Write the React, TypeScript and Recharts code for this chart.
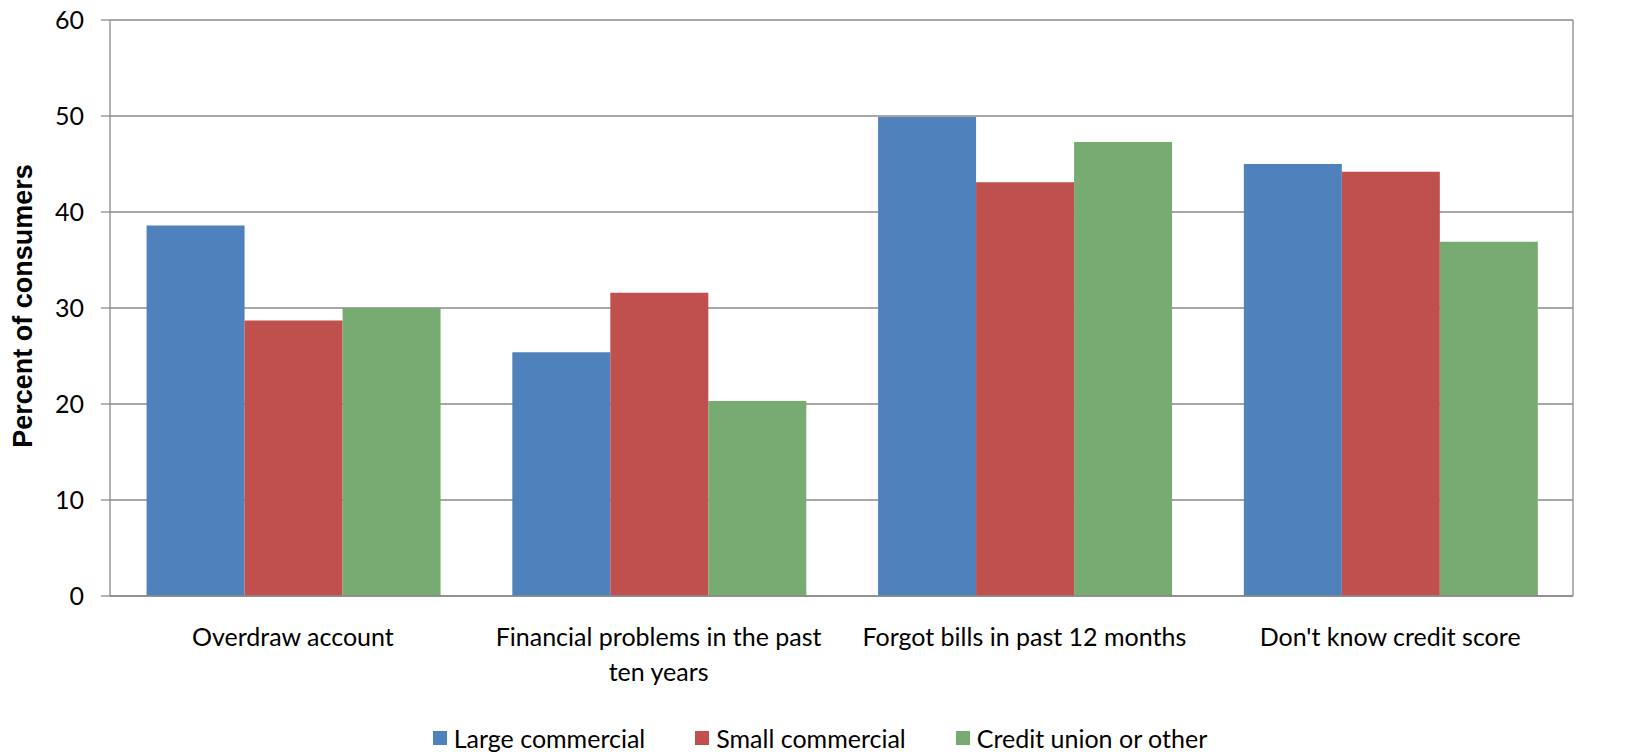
import React from "react";
import {
  Bar,
  BarChart,
  CartesianGrid,
  Legend,
  XAxis,
  YAxis,
} from "recharts";

// values
const CATEGORIES = [
  "Overdraw account",
  "Financial problems in the past ten years",
  "Forgot bills in past 12 months",
  "Don't know credit score",
];
const LARGE_COMMERCIAL = [38.6, 25.4, 49.9, 45.0];
const SMALL_COMMERCIAL = [28.7, 31.6, 43.1, 44.2];
const CREDIT_UNION = [30.0, 20.3, 47.3, 36.9];
const Y_TICKS = [0, 10, 20, 30, 40, 50, 60];

const SERIES = [
  { key: "large", name: "Large commercial", color: "#4F81BD", values: LARGE_COMMERCIAL },
  { key: "small", name: "Small commercial", color: "#C0504D", values: SMALL_COMMERCIAL },
  { key: "credit", name: "Credit union or other", color: "#77AB72", values: CREDIT_UNION },
];

const FONT = "Lato, 'Noto Sans', sans-serif";
const FONT_SIZE = 25;
const GRID = "#8a8a8a";
const LABEL_WIDTH = 345;

const data = CATEGORIES.map((label, i) => {
  const row: Record<string, string | number> = { label };
  SERIES.forEach((s) => {
    row[s.key] = s.values[i];
  });
  return row;
});

let ctx: CanvasRenderingContext2D | null = null;
function measure(str: string) {
  if (!ctx) ctx = document.createElement("canvas").getContext("2d");
  if (!ctx) return str.length * FONT_SIZE * 0.5;
  ctx.font = `${FONT_SIZE}px ${FONT}`;
  return ctx.measureText(str).width;
}

// greedy word wrap, like Excel does for long category names
function wrap(label: string, maxWidth: number) {
  const lines: string[] = [];
  let cur = "";
  label.split(" ").forEach((w) => {
    const next = cur ? `${cur} ${w}` : w;
    if (cur && measure(next) > maxWidth) {
      lines.push(cur);
      cur = w;
    } else {
      cur = next;
    }
  });
  if (cur) lines.push(cur);
  return lines;
}

function CategoryTick(props: any) {
  const { x, y, payload } = props;
  const lines = wrap(String(payload.value), LABEL_WIDTH);
  return (
    <text
      x={x}
      y={y + 42}
      textAnchor="middle"
      fill="#000"
      style={{ fontFamily: FONT, fontSize: FONT_SIZE }}
    >
      {lines.map((line, i) => (
        <tspan key={i} x={x} dy={i === 0 ? 0 : 35}>
          {line}
        </tspan>
      ))}
    </text>
  );
}

function AxisTitle(props: any) {
  const vb = props.viewBox || { x: 0, y: 20, width: 110, height: 576 };
  const cx = 23;
  const cy = vb.y + vb.height / 2 - 2;
  return (
    <text
      x={cx}
      y={cy}
      transform={`rotate(-90, ${cx}, ${cy})`}
      textAnchor="middle"
      dominantBaseline="central"
      style={{ fontFamily: "'Liberation Sans', Arial, sans-serif", fontSize: 27, fontWeight: 700 }}
      fill="#000"
    >
      Percent of consumers
    </text>
  );
}

function LegendContent() {
  return (
    <div
      style={{
        display: "flex",
        justifyContent: "center",
        alignItems: "center",
        gap: 50,
        height: 32,
        fontFamily: FONT,
        fontSize: FONT_SIZE,
        color: "#000",
      }}
    >
      {SERIES.map((s) => (
        <div key={s.key} style={{ display: "flex", alignItems: "center", gap: 7 }}>
          <span style={{ width: 14, height: 14, background: s.color, display: "inline-block" }} />
          <span>{s.name}</span>
        </div>
      ))}
    </div>
  );
}

export default function App() {
  const tickStyle = { fill: "#000", fontSize: FONT_SIZE, fontFamily: FONT };
  return (
    <div style={{ position: "absolute", left: 0, top: 0, width: 1640, height: 752, background: "#fff" }}>
      <BarChart
        width={1640}
        height={752}
        data={data}
        margin={{ top: 20, right: 0, bottom: 0, left: 0 }}
        barCategoryGap="10%"
        barGap={0}
      >
        <CartesianGrid vertical={false} stroke={GRID} strokeWidth={1.3} yAxisId="left" />
        <XAxis
          dataKey="label"
          height={124}
          interval={0}
          axisLine={{ stroke: GRID, strokeWidth: 1.3 }}
          tickLine={false}
          tick={<CategoryTick />}
        />
        <YAxis
          yAxisId="left"
          width={110}
          domain={[0, 60]}
          ticks={Y_TICKS}
          interval={0}
          axisLine={{ stroke: GRID, strokeWidth: 1.3 }}
          tickLine={{ stroke: GRID, strokeWidth: 1.3 }}
          tickSize={9}
          tickMargin={17}
          tick={tickStyle}
          label={<AxisTitle />}
        />
        <YAxis
          yAxisId="right"
          orientation="right"
          width={67}
          domain={[0, 60]}
          ticks={Y_TICKS}
          interval={0}
          axisLine={{ stroke: GRID, strokeWidth: 1.3 }}
          tickLine={{ stroke: GRID, strokeWidth: 1.3 }}
          tickSize={9}
          tickMargin={17}
          tick={tickStyle}
        />
        <Legend
          verticalAlign="bottom"
          align="center"
          content={<LegendContent />}
          wrapperStyle={{ position: "absolute", left: 0, top: 722, width: 1640, height: 32 }}
        />
        {SERIES.map((s) => (
          <Bar
            key={s.key}
            yAxisId="left"
            dataKey={s.key}
            name={s.name}
            fill={s.color}
            isAnimationActive={false}
          />
        ))}
      </BarChart>
    </div>
  );
}
